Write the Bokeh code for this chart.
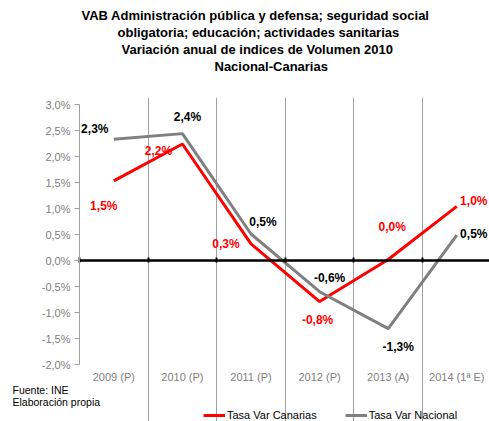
from bokeh.plotting import figure
from bokeh.models import (ColumnDataSource, Range1d, FixedTicker, Title, Legend,
                          LegendItem, Label, Grid, LinearAxis)
from bokeh.core.properties import value
from bokeh.embed import file_html
from bokeh.resources import INLINE

# ---- data ----
categories = ["2009 (P)", "2010 (P)", "2011 (P)", "2012 (P)", "2013 (A)", "2014 (1ª E)"]
canarias = [1.53, 2.24, 0.32, -0.79, 0.02, 1.04]
nacional = [2.33, 2.44, 0.51, -0.60, -1.31, 0.49]
y_ticks = [-2.0, -1.5, -1.0, -0.5, 0.0, 0.5, 1.0, 1.5, 2.0, 2.5, 3.0]
title_lines = ["VAB Administración pública y defensa; seguridad social",
               "obligatoria; educación; actividades sanitarias",
               "Variación anual de indices de Volumen 2010",
               "Nacional-Canarias"]
notes = ["Fuente: INE", "Elaboración propia"]

FONT = "Liberation Sans"
RED = "#FF0000"
GREY = "#808080"
AXIS_GREY = "#A0A0A0"

def fmt(v):
    return f"{v:.1f}".replace(".", ",") + "%"

n = len(categories)
xs = [i + 0.5 for i in range(n)]
bounds_x = list(range(n + 1))
Y_MIN, Y_MAX = y_ticks[0], y_ticks[-1]

# ---- layout (pixels) ----
W, H = 489, 421
TOP = 97                 # frame top
AXIS_TOP = 104           # pixel row of the top value tick
LEFT = 79                # pixel column of the value axis
PX_X, PX_Y = 68.6, 52.0  # pixels per category / per 1 %
x0 = -LEFT / PX_X
y1 = Y_MAX + (AXIS_TOP - TOP) / PX_Y
y0 = y1 - (H - TOP) / PX_Y
title_left = [81, 117, 121, 214]

p = figure(width=W, height=H, output_backend="svg", toolbar_location=None,
           x_range=Range1d(x0, x0 + W / PX_X), y_range=Range1d(y0, y1),
           min_border_left=0, min_border_right=0, min_border_top=TOP,
           min_border_bottom=0)
p.outline_line_color = None
p.background_fill_color = "white"
p.border_fill_color = "white"

# titles (first added is closest to the frame)
p.add_layout(Title(text=" ", text_font_size="11px", text_font=FONT), "above")
for line, off in reversed(list(zip(title_lines, title_left))):
    p.add_layout(Title(text=line, align="left", offset=off, text_font=FONT,
                       text_font_size="13px", text_font_style="bold",
                       text_color="black", standoff=0), "above")
p.title.visible = False

# value axis, fixed at the first category edge
p.yaxis.fixed_location = 0
p.yaxis.bounds = (Y_MIN, Y_MAX)
p.yaxis.ticker = FixedTicker(ticks=y_ticks)
p.yaxis.major_label_overrides = {v: fmt(v) for v in y_ticks}
p.yaxis.axis_line_color = AXIS_GREY
p.yaxis.major_tick_line_color = AXIS_GREY
p.yaxis.major_tick_out = 5
p.yaxis.major_tick_in = 0
p.yaxis.minor_tick_line_color = None
p.yaxis.major_label_text_font = FONT
p.yaxis.major_label_text_font_size = "11px"
p.yaxis.major_label_text_color = GREY
p.yaxis.major_label_standoff = 4

# category labels, fixed at the bottom of the value range
p.xaxis.fixed_location = Y_MIN
p.xaxis.ticker = FixedTicker(ticks=xs)
p.xaxis.major_label_overrides = {x: c for x, c in zip(xs, categories)}
p.xaxis.axis_line_color = None
p.xaxis.major_tick_line_color = None
p.xaxis.major_tick_out = 0
p.xaxis.major_tick_in = 0
p.xaxis.minor_tick_line_color = None
p.xaxis.major_label_text_font = FONT
p.xaxis.major_label_text_font_size = "11px"
p.xaxis.major_label_text_color = GREY
p.xaxis.major_label_standoff = 6

p.ygrid.grid_line_color = None
p.xgrid.grid_line_color = None
vgrid = Grid(dimension=0, ticker=FixedTicker(ticks=bounds_x[1:-1]),
             grid_line_color=AXIS_GREY, grid_line_width=1, bounds=(Y_MIN, Y_MAX))
p.add_layout(vgrid)

src = ColumnDataSource(dict(x=xs, can=canarias, nac=nacional))
r_can = p.line("x", "can", source=src, line_color=RED, line_width=3)
r_nac = p.line("x", "nac", source=src, line_color=GREY, line_width=3)

# black zero axis with category-edge ticks
zero_axis = LinearAxis(fixed_location=0, bounds=(0, n),
                       ticker=FixedTicker(ticks=bounds_x),
                       major_label_overrides={b: "" for b in bounds_x},
                       axis_line_color="black", axis_line_width=2.5,
                       major_tick_line_color="black", major_tick_line_width=2,
                       major_tick_in=3, major_tick_out=2,
                       minor_tick_line_color=None)
p.add_layout(zero_axis, "below")

# data labels (pixel offsets are styling)
can_off = [(-10, 25), (-24, 7), (-25, 0), (-2, 18), (4, -32), (17, -5)]
nac_off = [(-19, -10), (5, -17), (12, -12), (10, -14), (10, 18), (17, -1)]
for vals, offs, col in ((canarias, can_off, RED), (nacional, nac_off, "black")):
    lsrc = ColumnDataSource(dict(x=xs, y=vals, t=[fmt(v) for v in vals],
                                 dx=[o[0] for o in offs], dy=[o[1] for o in offs]))
    p.text("x", "y", text="t", x_offset="dx", y_offset="dy", source=lsrc,
           text_font=value(FONT), text_font_size="12px", text_font_style="bold",
           text_color=col, text_align="center", text_baseline="middle")

# footnotes (screen px from the frame's bottom-left corner)
for txt, yy in zip(notes, (32, 20)):
    p.add_layout(Label(x=12, y=yy, x_units="screen", y_units="screen", text=txt,
                       text_font=FONT, text_font_size="10.5px", text_color="black",
                       text_baseline="middle", text_align="left"))

legend = Legend(items=[LegendItem(label="Tasa Var Canarias", renderers=[r_can]),
                       LegendItem(label="Tasa Var Nacional", renderers=[r_nac])],
                orientation="horizontal", location=(203, 0),
                border_line_color=None, background_fill_alpha=0,
                label_text_font=FONT, label_text_font_size="11px",
                label_text_color="black", glyph_width=22, glyph_height=12,
                label_standoff=2, label_width=0, spacing=28, padding=0, margin=0)
p.add_layout(legend)

open("out.html", "w").write(file_html(p, INLINE))
